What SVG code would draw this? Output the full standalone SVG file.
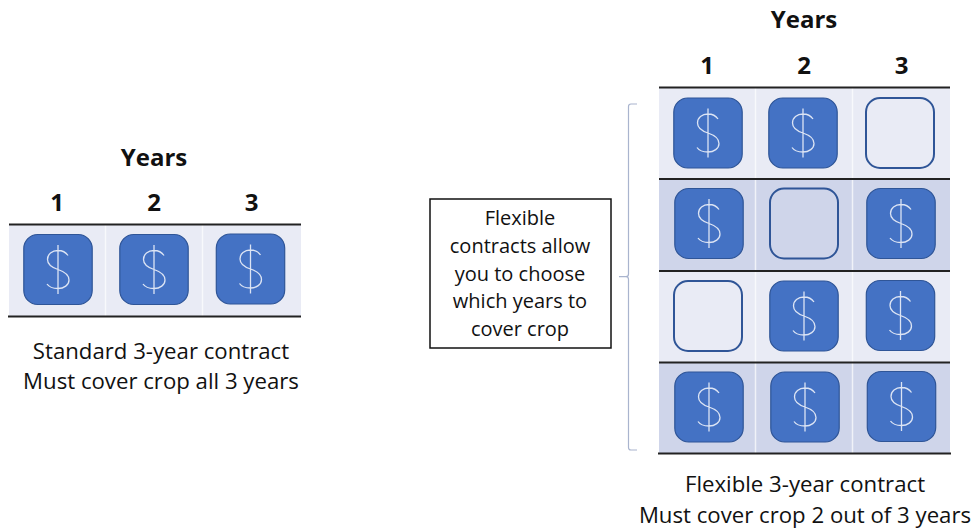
<svg xmlns="http://www.w3.org/2000/svg" width="973" height="529" viewBox="0 0 973 529">
<style>
text{font-family:"Open Sans","Noto Sans","Liberation Sans",sans-serif;fill:#111;text-anchor:middle}
.t{font-size:24px;font-weight:700}
.c{font-size:22.2px}
.b{font-size:20px}
.l{fill:#E9EBF5}
.d{fill:#CFD5EA}
.g{stroke:#fff;stroke-width:1.5;opacity:.7}
.r{stroke:#222;stroke-width:2;fill:none}
.on{fill:#4472C4;stroke:#2F5597;stroke-width:1.2}
.off{fill:none;stroke:#2F5597;stroke-width:2}
.s{fill:none;stroke:#DCE4F4;stroke-width:1.3}
</style>
<defs>
<g id="card"><rect class="on" x="-34.2" y="-35" width="68.4" height="70" rx="14"/><path class="s" d="M10,-14C8,-17 4,-19 0,-19C-6,-19 -10.5,-15.5 -10.5,-10C-10.5,-5 -6,-2 0,0C6,2 11,5 11,10.5C11,15.5 6,19 0,19C-5,19 -9,17.5 -11,14.5M0,-24.5V24.5"/></g>
<g id="empty"><rect class="off" x="-34" y="-35" width="68" height="70" rx="14"/></g>
</defs>
<rect width="973" height="529" fill="#fff"/>
<g id="standard-table">
<rect class="l" x="9" y="224.500" width="292" height="92"/>
<path class="g" d="M105.500,225V316M202.500,225V316"/>
<path class="r" d="M9,224.500H301M8,316.500H301"/>
</g>
<g id="flexible-table">
<rect class="l" x="659" y="87.500" width="291" height="91.500"/>
<rect class="d" x="659" y="179" width="291" height="92"/>
<rect class="l" x="659" y="271" width="291" height="91.500"/>
<rect class="d" x="659" y="362.500" width="291" height="91"/>
<path class="g" d="M755.500,88V453M852.500,88V453"/>
<path class="r" d="M659,87.500H950M659,179H950M659,271H950M659,362.500H950M658,453.500H951"/>
</g>
<g id="standard-heading">
<text class="t" x="154" y="166">Years</text>
<text class="t" x="57" y="211">1</text><text class="t" x="154" y="211">2</text><text class="t" x="251.500" y="211">3</text>
</g>
<g id="standard-cards">
<use href="#card" x="58" y="269.500"/><use href="#card" x="154" y="269.500"/><use href="#card" x="250.500" y="269"/>
</g>
<g id="standard-caption">
<text class="c" x="161" y="359">Standard 3-year contract</text>
<text class="c" x="161" y="389">Must cover crop all 3 years</text>
</g>
<g id="flexible-heading">
<text class="t" x="804" y="28">Years</text>
<text class="t" x="707" y="74">1</text><text class="t" x="804" y="74">2</text><text class="t" x="901.500" y="74">3</text>
</g>
<g id="flexible-cards">
<use href="#card" x="708" y="133"/><use href="#card" x="803" y="133"/><use href="#empty" x="900" y="133"/>
<use href="#card" x="709" y="223.500"/><use href="#empty" x="804" y="223.500"/><use href="#card" x="901" y="223.500"/>
<use href="#empty" x="708" y="316"/><use href="#card" x="804" y="316"/><use href="#card" x="900.500" y="315.500"/>
<use href="#card" x="709" y="407"/><use href="#card" x="805" y="407"/><use href="#card" x="901.500" y="406.500"/>
</g>
<g id="flexible-caption">
<text class="c" x="805" y="492">Flexible 3-year contract</text>
<text class="c" x="805" y="522.500">Must cover crop 2 out of 3 years</text>
</g>
<g id="connectors">
<path d="M637,104H631Q628.500,104 628.500,106.500V274Q628.500,276.700 626,276.700H619M626,276.700Q628.500,276.700 628.500,279.500V447.500Q628.500,450 631,450H637" fill="none" stroke="#A9B4CE" stroke-width="1.2"/>
</g>
<g id="note">
<rect x="430" y="199" width="181" height="149" fill="#fff" stroke="#111" stroke-width="1.500"/>
<text class="b" x="520" y="225">Flexible</text>
<text class="b" x="520" y="253">contracts allow</text>
<text class="b" x="520" y="281">you to choose</text>
<text class="b" x="520" y="308">which years to</text>
<text class="b" x="520" y="336">cover crop</text>
</g>
</svg>
